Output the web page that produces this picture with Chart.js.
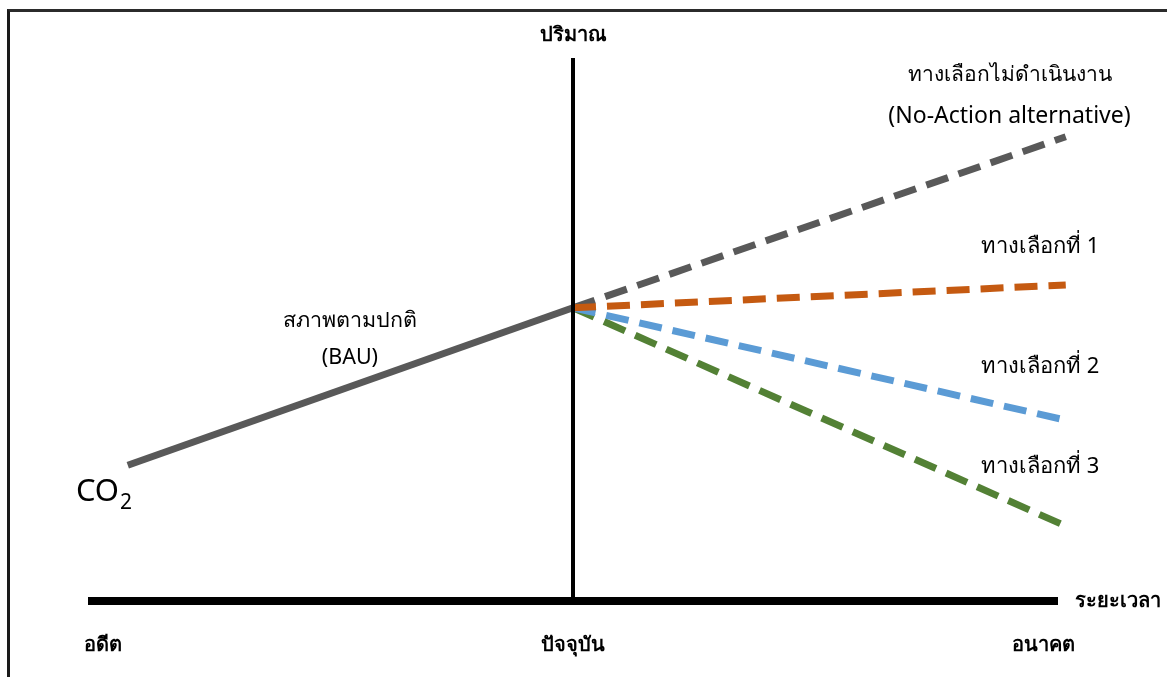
<!DOCTYPE html>
<html>
<head>
<meta charset="utf-8">
<title>CO2 alternatives</title>
<script src="https://cdn.jsdelivr.net/npm/chart.js@4.4.0/dist/chart.umd.min.js"></script>
<style>
  html, body { margin: 0; padding: 0; background: #fff; }
  #wrap { position: relative; width: 1167px; height: 677px; overflow: hidden; }
  #frame { position: absolute; left: 7px; top: 9px; right: -10px; bottom: -10px;
           border-left: 3px solid #1a1a1a; border-top: 3px solid #2b2b2b; }
  #chartCO2 { position: absolute; left: 0; top: 0; }
</style>
</head>
<body>
<div id="wrap">
  <div id="frame"></div>
  <canvas id="chartCO2" width="1167" height="677"></canvas>
</div>
<script>
// time runs from past (-100) through present (0) to future (+100)
var timeLabels = ['อดีต', 'ปัจจุบัน', 'อนาคต'];
var timeValues = [-97, 0, 97];
var axisTime = [-100, 100];
var axisValue = [0, 100];

// business as usual, past -> present
var bauTime = [-91.8, 0];
var bauValue = [25, 54];

// alternatives, present -> future
var scenarioNames = ['ทางเลือกไม่ดำเนินงาน', 'ทางเลือกที่ 1', 'ทางเลือกที่ 2', 'ทางเลือกที่ 3'];
var scenarioTime = [0, 101.6];
var noActionValue = [54, 85.5];
var option1Value = [54, 58.2];
var option2Value = [54, 33.3];
var option3Value = [54, 13.8];

var thaiFont = '"Noto Sans", "DejaVu Sans", sans-serif';

function toPoints(xs, ys) {
  var pts = [];
  for (var i = 0; i < xs.length; i++) {
    pts.push({ x: xs[i], y: ys[i] });
  }
  return pts;
}

function dashed(label, values, color, order) {
  return {
    label: label,
    data: toPoints(scenarioTime, values),
    borderColor: color,
    borderWidth: 7,
    borderDash: [23, 11],
    borderCapStyle: 'butt',
    pointRadius: 0,
    clip: false,
    order: order
  };
}

var datasets = [
  { label: 'x-axis', data: toPoints(axisTime, [0, 0]), borderColor: '#000', borderWidth: 8,
    pointRadius: 0, clip: false, order: 0 },
  { label: 'y-axis', data: toPoints([0, 0], axisValue), borderColor: '#000', borderWidth: 4,
    pointRadius: 0, clip: false, order: 0 },
  { label: 'BAU', data: toPoints(bauTime, bauValue), borderColor: '#595959', borderWidth: 7,
    pointRadius: 0, clip: false, order: 5 },
  dashed(scenarioNames[0], noActionValue, '#595959', 4),
  dashed(scenarioNames[1], option1Value, '#C55A11', 1),
  dashed(scenarioNames[2], option2Value, '#5B9BD5', 2),
  dashed(scenarioNames[3], option3Value, '#538135', 3)
];

// text labels drawn against the scales
var textPlugin = {
  id: 'diagramText',
  afterDatasetsDraw: function (chart) {
    var ctx = chart.ctx;
    var xs = chart.scales.x;
    var ys = chart.scales.y;
    var area = chart.chartArea;
    ctx.save();
    ctx.fillStyle = '#000';
    ctx.textBaseline = 'middle';

    // axis titles
    ctx.font = 'bold 20px ' + thaiFont;
    ctx.textAlign = 'center';
    ctx.fillText('ปริมาณ', xs.getPixelForValue(0), area.top - 23);
    ctx.textAlign = 'left';
    ctx.fillText('ระยะเวลา', area.right + 17, area.bottom);

    // time labels
    ctx.textAlign = 'center';
    for (var i = 0; i < timeLabels.length; i++) {
      ctx.fillText(timeLabels[i], xs.getPixelForValue(timeValues[i]), area.bottom + 44);
    }

    // BAU label
    ctx.font = '21.5px ' + thaiFont;
    var bx = xs.getPixelForValue(-46);
    ctx.fillText('สภาพตามปกติ', bx, ys.getPixelForValue(51.5));
    ctx.fillText('(BAU)', bx, ys.getPixelForValue(44.8));

    // CO2
    var cx = xs.getPixelForValue(-102.5);
    var cy = ys.getPixelForValue(18.4);
    ctx.textAlign = 'left';
    ctx.textBaseline = 'alphabetic';
    ctx.font = '31px ' + thaiFont;
    ctx.fillText('CO', cx, cy);
    var w = ctx.measureText('CO').width;
    ctx.font = '21px ' + thaiFont;
    ctx.fillText('2', cx + w + 1, cy + 8);

    // alternatives
    ctx.textBaseline = 'middle';
    ctx.textAlign = 'center';
    ctx.font = '21px ' + thaiFont;
    var nx = xs.getPixelForValue(90);
    ctx.fillText(scenarioNames[0], nx, ys.getPixelForValue(96.9));
    ctx.font = '23px ' + thaiFont;
    ctx.fillText('(No-Action alternative)', nx, ys.getPixelForValue(89.3));

    ctx.textAlign = 'right';
    ctx.font = '22px ' + thaiFont;
    var rx = xs.getPixelForValue(108.5);
    ctx.fillText(scenarioNames[1], rx, ys.getPixelForValue(65.2));
    ctx.fillText(scenarioNames[2], rx, ys.getPixelForValue(43.1));
    ctx.fillText(scenarioNames[3], rx, ys.getPixelForValue(24.7));
    ctx.restore();
  }
};

var config = {
  type: 'line',
  data: { datasets: datasets },
  options: {
    responsive: false,
    animation: false,
    layout: { padding: { left: 88, right: 109, top: 58, bottom: 76 } },
    plugins: { legend: { display: false }, tooltip: { enabled: false } },
    scales: {
      x: { type: 'linear', min: -100, max: 100, display: false },
      y: { type: 'linear', min: 0, max: 100, display: false }
    }
  },
  plugins: [textPlugin]
};

new Chart(document.getElementById('chartCO2'), config);
</script>
</body>
</html>
